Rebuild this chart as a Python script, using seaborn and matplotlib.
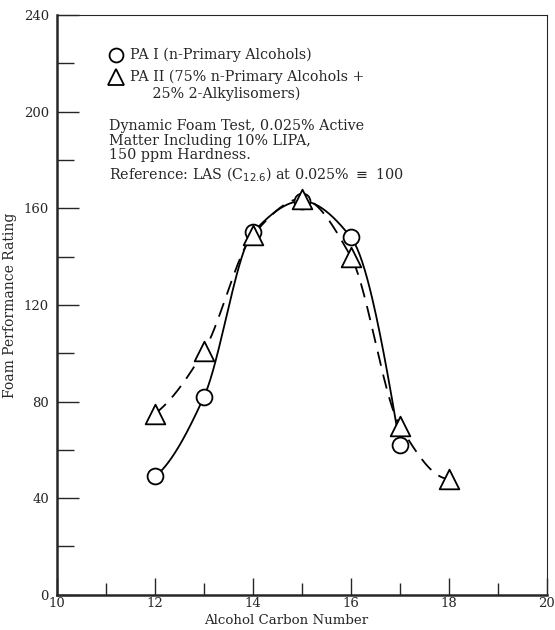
import numpy as np
import pandas as pd
import seaborn as sns
import matplotlib.pyplot as plt

# values
carbon_pa1 = [12, 13, 14, 15, 16, 17]
rating_pa1 = [49, 82, 150, 163, 148, 62]
carbon_pa2 = [12, 13, 14, 15, 16, 17, 18]
rating_pa2 = [75, 101, 149, 164, 140, 70, 48]

label_pa1 = "PA I (n-Primary Alcohols)"
label_pa2 = "PA II (75% n-Primary Alcohols +\n     25% 2-Alkylisomers)"
note = ("Dynamic Foam Test, 0.025% Active\n"
        "Matter Including 10% LIPA,\n"
        "150 ppm Hardness.")
note_ref = r"Reference: LAS (C$_{12.6}$) at 0.025% $\equiv$ 100"


def pchip_curve(xs, ys, n=40):
    # monotone cubic through the points, only to mimic the hand-drawn curves
    x = np.asarray(xs, float)
    y = np.asarray(ys, float)
    h = np.diff(x)
    d = np.diff(y) / h
    m = np.zeros_like(y)
    for k in range(1, len(y) - 1):
        if d[k - 1] * d[k] > 0:
            w1 = 2 * h[k] + h[k - 1]
            w2 = h[k] + 2 * h[k - 1]
            m[k] = (w1 + w2) / (w1 / d[k - 1] + w2 / d[k])
    for i, (a, b) in ((0, (d[0], d[1])), (-1, (d[-1], d[-2]))):
        e = (3 * a - b) / 2
        if np.sign(e) != np.sign(a):
            e = 0
        m[i] = e
    ox, oy = [], []
    t = np.linspace(0, 1, n)
    for k in range(len(x) - 1):
        h00 = 2 * t**3 - 3 * t**2 + 1
        h10 = t**3 - 2 * t**2 + t
        h01 = -2 * t**3 + 3 * t**2
        h11 = t**3 - t**2
        ox.extend(x[k] + t * h[k])
        oy.extend(h00 * y[k] + h10 * h[k] * m[k] + h01 * y[k + 1] + h11 * h[k] * m[k + 1])
    return pd.DataFrame({"x": ox, "y": oy})


sns.set_style("ticks")
plt.rcParams["font.family"] = ["DejaVu Serif"]

fig = plt.figure(figsize=(5.55, 6.3), dpi=100)
ax = fig.add_axes([0.103, 0.056, 0.882, 0.92])

curve1 = pchip_curve(carbon_pa1, rating_pa1)
curve2 = pchip_curve(carbon_pa2, rating_pa2)
sns.lineplot(data=curve1, x="x", y="y", sort=False, color="black", lw=1.3, ax=ax)
sns.lineplot(data=curve2, x="x", y="y", sort=False, color="black", lw=1.3, ax=ax)
ax.lines[-1].set_dashes([8, 5])

sns.scatterplot(x=carbon_pa1, y=rating_pa1, marker="o", s=130, facecolor="white",
                edgecolor="black", linewidth=1.3, zorder=3, ax=ax)
sns.scatterplot(x=carbon_pa2, y=rating_pa2, marker="^", s=200, facecolor="white",
                edgecolor="black", linewidth=1.3, zorder=4, ax=ax)

ax.set_xlim(10, 20)
ax.set_ylim(0, 240)
ax.set_xticks(range(10, 21, 2))
ax.set_xticks(range(11, 20, 2), minor=True)
ax.set_yticks(range(0, 241, 40))
ax.set_yticks(range(20, 240, 40), minor=True)
ax.tick_params(which="both", direction="in", labelsize=9.5, width=1)
ax.tick_params(axis="y", which="major", length=16, pad=6)
ax.tick_params(axis="y", which="minor", length=12)
ax.tick_params(axis="x", which="major", length=12, pad=2)
ax.tick_params(axis="x", which="minor", length=9)
ax.spines["right"].set_linewidth(0.8)
ax.spines["top"].set_linewidth(0.8)
ax.spines["left"].set_linewidth(1.8)
ax.spines["bottom"].set_linewidth(1.8)

ax.set_xlabel("Alcohol Carbon Number", fontsize=9.6)
ax.xaxis.set_label_coords(0.467, -0.034)
ax.set_ylabel("Foam Performance Rating", fontsize=10, labelpad=5)

# legend block drawn inside the axes
ax.plot([11.2], [223.5], marker="o", ms=10, mfc="white", mec="black", mew=1.3)
ax.text(11.48, 223.5, label_pa1, fontsize=10.3, va="center")
ax.plot([11.2], [214.5], marker="^", ms=11, mfc="white", mec="black", mew=1.3)
ax.text(11.48, 210.8, label_pa2, fontsize=10.3, va="center", linespacing=1.2)
ax.text(11.06, 188, note, fontsize=10.3, va="center", linespacing=1.05)
ax.text(11.06, 174, note_ref, fontsize=10.3, va="center")

fig.savefig("out.png", dpi=100)
